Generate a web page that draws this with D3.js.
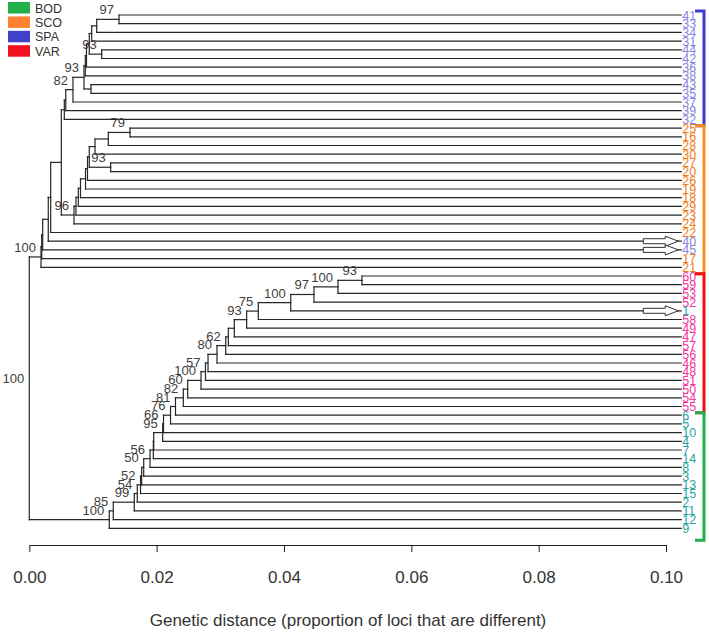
<!DOCTYPE html>
<html>
<head>
<meta charset="utf-8">
<script src="https://cdn.jsdelivr.net/npm/d3@7"></script>
<style>
  body { margin: 0; background: #fff; }
  text { font-family: "Liberation Sans", Arial, sans-serif; }
</style>
</head>
<body>
<svg id="chart" width="709" height="632"></svg>
<script>
// leaf order, top to bottom
const leafOrder = ["41","33","34","31","44","42","36","38","43","35","37","39","32",
  "25","16","28","30","27","20","26","19","18","29","23","24","22","40","45","17","21",
  "60","59","53","52","1","58","49","47","57","56","46","48","51","50","54","55",
  "6","5","10","4","7","14","8","3","13","15","2","11","12","9"];

// population membership
const groupNames = ["BOD", "SCO", "SPA", "VAR"];
const bodLeaves = ["1","2","3","4","5","6","7","8","9","10","11","12","13","14","15"];
const scoLeaves = ["16","17","18","19","20","21","22","23","24","25","26","27","28","29","30"];
const spaLeaves = ["31","32","33","34","35","36","37","38","39","40","41","42","43","44","45"];
const varLeaves = ["46","47","48","49","50","51","52","53","54","55","56","57","58","59","60"];

// tips all end at this distance
const leafDepth = 0.1024;

// merges: [node, child, child, distance, bootstrap]
const merges = [
  ["a1", "41", "33", 0.01409, 97],
  ["a2", "a1", "34", 0.01059, null],
  ["a3", "a2", "31", 0.00980, null],
  ["a4", "44", "42", 0.01137, 93],
  ["a5", "a3", "a4", 0.00942, null],
  ["a6", "a5", "36", 0.00898, null],
  ["a7", "a6", "38", 0.00880, null],
  ["a8", "43", "35", 0.00969, null],
  ["a9", "a7", "a8", 0.00859, 93],
  ["a10", "a9", "37", 0.00686, 82],
  ["a11", "a10", "39", 0.00573, null],
  ["a12", "a11", "32", 0.00550, null],
  ["b1", "25", "16", 0.01582, 79],
  ["b2", "b1", "28", 0.01241, null],
  ["b3", "b2", "30", 0.01032, null],
  ["b4", "27", "20", 0.01278, 93],
  ["b5", "b3", "b4", 0.00942, null],
  ["b6", "b5", "26", 0.00914, null],
  ["b7", "b6", "19", 0.00883, null],
  ["b8", "b7", "18", 0.00804, null],
  ["b9", "b8", "29", 0.00770, null],
  ["b10", "b9", "23", 0.00733, null],
  ["b11", "b10", "24", 0.00702, 96],
  ["c1", "a12", "b11", 0.00503, null],
  ["c2", "c1", "22", 0.00336, null],
  ["c3", "c2", "40", 0.00298, null],
  ["c4", "c3", "45", 0.00210, null],
  ["c5", "c4", "17", 0.00195, null],
  ["c6", "c5", "21", 0.00184, 100],
  ["d1", "60", "59", 0.05225, 93],
  ["d2", "d1", "53", 0.04848, 100],
  ["d3", "d2", "52", 0.04471, 97],
  ["d4", "d3", "1", 0.04106, 100],
  ["d5", "d4", "58", 0.03597, 75],
  ["d6", "d5", "49", 0.03414, 93],
  ["d7", "d6", "47", 0.03220, null],
  ["d8", "d7", "57", 0.03126, null],
  ["d9", "d8", "56", 0.03085, 62],
  ["d10", "d9", "46", 0.02948, 80],
  ["d11", "d10", "48", 0.02807, null],
  ["d12", "d11", "51", 0.02767, 57],
  ["d13", "d12", "50", 0.02697, 100],
  ["d14", "d13", "54", 0.02488, 60],
  ["d15", "d14", "55", 0.02419, 82],
  ["d16", "d15", "6", 0.02296, 81],
  ["d17", "d16", "5", 0.02218, 76],
  ["d18", "d17", "10", 0.02108, 66],
  ["d19", "d18", "4", 0.02095, 95],
  ["d20", "d19", "7", 0.01954, null],
  ["d21", "d20", "14", 0.01948, null],
  ["d22", "d21", "8", 0.01896, 56],
  ["d23", "d22", "3", 0.01797, 50],
  ["d24", "d23", "13", 0.01765, null],
  ["d25", "d24", "15", 0.01747, 52],
  ["d26", "d25", "2", 0.01696, 54],
  ["d27", "d26", "11", 0.01649, 99],
  ["d28", "d27", "12", 0.01319, 85],
  ["d29", "d28", "9", 0.01256, 100],
  ["root", "c6", "d29", 0, 100]
];

// flagged samples (arrows)
const arrowLeaves = ["40", "45", "1"];

// brackets on the right: [group, first leaf, last leaf]
const brackets = [["SPA", "41", "32"], ["SCO", "25", "21"], ["VAR", "60", "55"], ["BOD", "6", "9"]];

const xTicks = [0, 0.02, 0.04, 0.06, 0.08, 0.10];
const xTitle = "Genetic distance (proportion of loci that are different)";

const legendColor = { BOD: "#22b04b", SCO: "#ff8030", SPA: "#4040c8", VAR: "#f01020" };
const bracketColor = { BOD: "#22b04b", SCO: "#ff8c1a", SPA: "#3c3cd0", VAR: "#f01010" };
const labelColor = { BOD: "#2aa59a", SCO: "#f07c18", SPA: "#8585e0", VAR: "#f0389a" };

const groupOf = {};
bodLeaves.forEach(d => groupOf[d] = "BOD");
scoLeaves.forEach(d => groupOf[d] = "SCO");
spaLeaves.forEach(d => groupOf[d] = "SPA");
varLeaves.forEach(d => groupOf[d] = "VAR");

const svg = d3.select("#chart");

const x = d3.scaleLinear().domain([0, 0.1]).range([29.3, 666]);
const y = d3.scalePoint().domain(leafOrder).range([15, 528.3]);

// build the nodes
const nodes = {};
leafOrder.forEach(id => nodes[id] = { id, depth: leafDepth, y: y(id), leaf: true });
merges.forEach(([id, a, b, depth, support]) => {
  const kids = [nodes[a], nodes[b]];
  nodes[id] = { id, depth, support, kids, y: (kids[0].y + kids[1].y) / 2 };
});
const internal = merges.map(m => nodes[m[0]]);

// elbow segments
const segs = [];
internal.forEach(n => {
  const ys = n.kids.map(k => k.y);
  segs.push({ x1: x(n.depth), x2: x(n.depth), y1: d3.min(ys), y2: d3.max(ys) });
  n.kids.forEach(k => segs.push({ x1: x(n.depth), x2: x(k.depth), y1: k.y, y2: k.y }));
});

svg.append("g")
  .attr("stroke", "#262626")
  .attr("stroke-width", 1.2)
  .attr("stroke-linecap", "square")
  .selectAll("line")
  .data(segs)
  .join("line")
  .attr("x1", d => d.x1).attr("x2", d => d.x2)
  .attr("y1", d => d.y1).attr("y2", d => d.y2);

// bootstrap values
svg.append("g")
  .selectAll("text")
  .data(internal.filter(n => n.support != null))
  .join("text")
  .attr("x", n => x(n.depth) - 5)
  .attr("y", n => n.y - 5)
  .attr("text-anchor", "end")
  .attr("font-size", 13)
  .attr("fill", "#404040")
  .text(n => n.support);

// arrows pointing at flagged tips
const arrowLen = 35, shaft = 2.5, head = 5, headLen = 13;
svg.append("g")
  .selectAll("path")
  .data(arrowLeaves)
  .join("path")
  .attr("d", id => {
    const tx = x(leafDepth) - 3, ty = y(id);
    const sx = tx - arrowLen, hx = tx - headLen;
    return `M${sx},${ty - shaft}L${hx},${ty - shaft}L${hx},${ty - head}L${tx},${ty}` +
           `L${hx},${ty + head}L${hx},${ty + shaft}L${sx},${ty + shaft}Z`;
  })
  .attr("fill", "#fff")
  .attr("stroke", "#303030")
  .attr("stroke-width", 1);

// tip labels
svg.append("g")
  .selectAll("text")
  .data(leafOrder)
  .join("text")
  .attr("x", x(leafDepth) + 1)
  .attr("y", id => y(id) + 4.5)
  .attr("font-size", 12.5)
  .attr("fill", id => labelColor[groupOf[id]])
  .text(id => id);

// brackets
const bx = 704, tick = 9;
const bdata = brackets.map(([g, first, last], i) => {
  const top = i === 0 ? y(first) - 4 : (y(brackets[i - 1][2]) + y(first)) / 2 + 2;
  const bottom = i === brackets.length - 1 ? y(last) + 12 : (y(last) + y(brackets[i + 1][1])) / 2 + 2;
  return { g, top, bottom };
});
svg.append("g")
  .selectAll("path")
  .data(bdata)
  .join("path")
  .attr("d", d => `M${bx - tick},${d.top}H${bx}V${d.bottom}H${bx - tick}`)
  .attr("fill", "none")
  .attr("stroke", d => bracketColor[d.g])
  .attr("stroke-width", 3);

// legend
const lg = svg.append("g").attr("transform", "translate(8,2)");
const li = lg.selectAll("g").data(groupNames).join("g")
  .attr("transform", (d, i) => `translate(0,${i * 14.4})`);
li.append("rect").attr("width", 22).attr("height", 11.5).attr("fill", d => legendColor[d]);
li.append("text").attr("x", 27).attr("y", 10.5)
  .attr("font-size", 12.5).attr("fill", "#333").text(d => d);

// axis
const gx = svg.append("g")
  .attr("transform", "translate(0,545)")
  .call(d3.axisBottom(x).tickValues(xTicks).tickFormat(d3.format(".2f")).tickSize(7).tickSizeOuter(0));
gx.select(".domain").attr("stroke", "#222");
gx.selectAll(".tick line").attr("stroke", "#222");
gx.selectAll(".tick text")
  .attr("y", 26)
  .attr("font-size", 17)
  .attr("font-family", "Liberation Sans, Arial, sans-serif")
  .attr("fill", "#333");

svg.append("text")
  .attr("x", 348)
  .attr("y", 626)
  .attr("text-anchor", "middle")
  .attr("font-size", 17)
  .attr("fill", "#333")
  .text(xTitle);
</script>
</body>
</html>
